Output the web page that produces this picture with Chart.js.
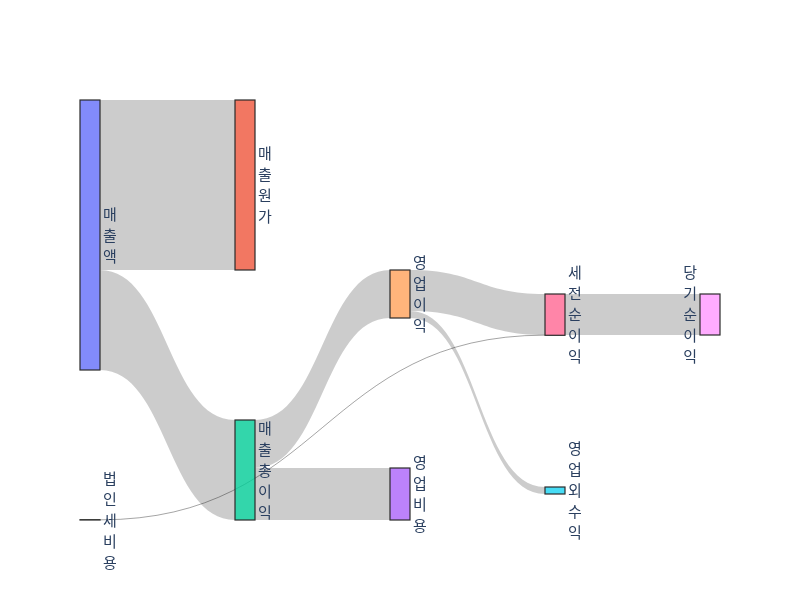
<!DOCTYPE html>
<html>
<head>
<meta charset="utf-8">
<script src="https://cdn.jsdelivr.net/npm/chart.js@4"></script>
<style>
  body { margin: 0; background: #fff; }
</style>
</head>
<body>
<canvas id="chart" width="800" height="600"></canvas>
<script>
// nodes and flows
const nodeLabels = ["매출액", "매출원가", "매출총이익", "영업비용", "영업이익", "영업외수익", "세전순이익", "법인세비용", "당기순이익"];
const nodeColors = ["#636efa", "#EF553B", "#00cc96", "#ab63fa", "#FFA15A", "#19d3f3", "#FF6692", "#B6E880", "#FF97FF"];
const linkSource = [0, 0, 2, 2, 4, 4, 7, 6];
const linkTarget = [1, 2, 3, 4, 6, 5, 6, 8];
const linkValue = [170, 100, 52, 48, 41, 7, 0.3, 41];

// vertical placement of each node (top, in value units) - like plotly's node.y
const nodeTop = [0, 0, 320, 368, 170, 387, 194, 419.7, 194];

const NODE_W = 20;

// column = longest path from a source
function columns() {
    let col = nodeLabels.map(() => 0);
    for (let k = 0; k < nodeLabels.length; k++) {
        linkSource.forEach((s, i) => {
            let t = linkTarget[i];
            if (col[t] < col[s] + 1) col[t] = col[s] + 1;
        });
    }
    return col;
}

function hexA(hex, a) {
    let n = parseInt(hex.slice(1), 16);
    return "rgba(" + (n >> 16) + "," + ((n >> 8) & 255) + "," + (n & 255) + "," + a + ")";
}

const sankeyPlugin = {
    id: "sankey",
    afterDatasetsDraw(chart) {
        let ctx = chart.ctx;
        let xs = chart.scales.x, ys = chart.scales.y;
        let col = columns();

        let inSum = nodeLabels.map(() => 0), outSum = nodeLabels.map(() => 0);
        linkValue.forEach((v, i) => {
            outSum[linkSource[i]] += v;
            inSum[linkTarget[i]] += v;
        });
        let size = nodeLabels.map((_, i) => Math.max(inSum[i], outSum[i]));
        let center = nodeLabels.map((_, i) => nodeTop[i] + size[i] / 2);

        // stack link ends on each node
        let outOff = {}, inOff = {};
        nodeLabels.forEach((_, n) => {
            let outs = linkSource.map((s, i) => i).filter(i => linkSource[i] === n)
                .sort((a, b) => center[linkTarget[a]] - center[linkTarget[b]]);
            let y = nodeTop[n];
            outs.forEach(i => { outOff[i] = y; y += linkValue[i]; });
            let ins = linkTarget.map((t, i) => i).filter(i => linkTarget[i] === n)
                .sort((a, b) => center[linkSource[a]] - center[linkSource[b]]);
            y = nodeTop[n];
            ins.forEach(i => { inOff[i] = y; y += linkValue[i]; });
        });

        ctx.save();
        // links
        linkValue.forEach((v, i) => {
            let s = linkSource[i], t = linkTarget[i];
            let x0 = xs.getPixelForValue(col[s]) + NODE_W / 2;
            let x1 = xs.getPixelForValue(col[t]) - NODE_W / 2;
            let xm = (x0 + x1) / 2;
            let y0a = ys.getPixelForValue(outOff[i]), y0b = ys.getPixelForValue(outOff[i] + v);
            let y1a = ys.getPixelForValue(inOff[i]), y1b = ys.getPixelForValue(inOff[i] + v);
            if (Math.abs(y0b - y0a) < 1) {
                ctx.beginPath();
                ctx.moveTo(x0, (y0a + y0b) / 2);
                ctx.bezierCurveTo(xm, (y0a + y0b) / 2, xm, (y1a + y1b) / 2, x1, (y1a + y1b) / 2);
                ctx.strokeStyle = "rgba(0,0,0,0.45)";
                ctx.lineWidth = 0.8;
                ctx.stroke();
                return;
            }
            ctx.beginPath();
            ctx.moveTo(x0, y0a);
            ctx.bezierCurveTo(xm, y0a, xm, y1a, x1, y1a);
            ctx.lineTo(x1, y1b);
            ctx.bezierCurveTo(xm, y1b, xm, y0b, x0, y0b);
            ctx.closePath();
            ctx.fillStyle = "rgba(0,0,0,0.2)";
            ctx.fill();
        });

        // nodes
        let maxCol = Math.max(...col);
        nodeLabels.forEach((label, n) => {
            let xc = xs.getPixelForValue(col[n]);
            let y0 = ys.getPixelForValue(nodeTop[n]);
            let y1 = ys.getPixelForValue(nodeTop[n] + size[n]);
            ctx.fillStyle = hexA(nodeColors[n], 0.8);
            ctx.fillRect(xc - NODE_W / 2, y0, NODE_W, y1 - y0);
            ctx.strokeStyle = "#2b2b2b";
            ctx.lineWidth = 1.2;
            ctx.strokeRect(xc - NODE_W / 2, y0, NODE_W, y1 - y0);

            // vertical label, one character per line
            let chars = Array.from(label);
            let cy = (y0 + y1) / 2;
            let lh = 21;
            ctx.font = "15px 'Noto Sans CJK KR', 'Noto Sans', sans-serif";
            ctx.fillStyle = "#2a3f5f";
            ctx.textBaseline = "middle";
            let lx;
            if (col[n] === maxCol) {
                ctx.textAlign = "right";
                lx = xc - NODE_W / 2 - 3;
            } else {
                ctx.textAlign = "left";
                lx = xc + NODE_W / 2 + 3;
            }
            chars.forEach((c, k) => {
                ctx.fillText(c, lx, cy + (k - (chars.length - 1) / 2) * lh);
            });
        });
        ctx.restore();
    }
};

let cols = columns();
let points = nodeLabels.map((_, i) => ({ x: cols[i], y: nodeTop[i] }));

new Chart(document.getElementById("chart"), {
    type: "scatter",
    data: { datasets: [{ data: points, pointRadius: 0 }] },
    options: {
        responsive: false,
        animation: false,
        layout: { padding: { left: 90, right: 90, top: 100, bottom: 80 } },
        scales: {
            x: { type: "linear", min: 0, max: 4, display: false },
            y: { type: "linear", min: 0, max: 420, reverse: true, display: false }
        },
        plugins: { legend: { display: false }, tooltip: { enabled: false } }
    },
    plugins: [sankeyPlugin]
});
</script>
</body>
</html>
